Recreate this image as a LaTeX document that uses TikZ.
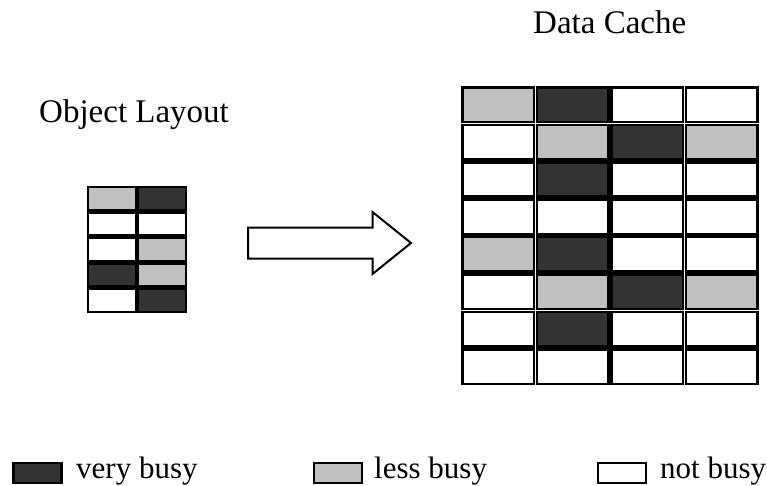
\documentclass[tikz,border=0pt]{standalone}
\usepackage{fontspec}
\setmainfont{Liberation Serif}
\definecolor{vbusy}{HTML}{333333}
\definecolor{lbusy}{HTML}{C0C0C0}
\begin{document}
\begin{tikzpicture}[x=1pt,y=-1pt,
  bigcell/.style={draw=black,line width=2.6pt,anchor=north west,inner sep=0pt,outer sep=0pt,minimum width=71.5pt,minimum height=34.5pt},
  smallcell/.style={draw=black,line width=2.4pt,anchor=north west,inner sep=0pt,outer sep=0pt,minimum width=47.5pt,minimum height=23pt},
  legbox/.style={draw=black,line width=2.6pt,anchor=north west,inner sep=0pt,outer sep=0pt,minimum width=48pt,minimum height=20pt},
  title/.style={font=\fontsize{33}{40}\selectfont,anchor=base west,inner sep=0pt},
  legtext/.style={font=\fontsize{31}{37}\selectfont,anchor=base west,inner sep=0pt}]
\useasboundingbox (0,0) rectangle (767,486);
\fill[white] (0,0) rectangle (767,486);
% titles
\node[title] (dc) at (533,34) {Data Cache};
\node[title] (ol) at (39,123) {Object Layout};
% small grid: 5 rows x 2 cols
\foreach \r/\ca/\cb in {0/lbusy/vbusy,1/white/white,2/white/lbusy,3/vbusy/lbusy,4/white/vbusy}{
  \node[smallcell,fill=\ca] (s\r a) at (88.2,{187.2+\r*25.4}) {};
  \node[smallcell,fill=\cb] (s\r b) at (138.2,{187.2+\r*25.4}) {};
}
% big grid: 8 rows x 4 cols
\foreach \r/\ca/\cb/\cc/\cd in {0/lbusy/vbusy/white/white,1/white/lbusy/vbusy/lbusy,2/white/vbusy/white/white,3/white/white/white/white,4/lbusy/vbusy/white/white,5/white/lbusy/vbusy/lbusy,6/white/vbusy/white/white,7/white/white/white/white}{
  \node[bigcell,fill=\ca] (b\r a) at (462.5,{87.5+\r*37.4}) {};
  \node[bigcell,fill=\cb] (b\r b) at (537,{87.5+\r*37.4}) {};
  \node[bigcell,fill=\cc] (b\r c) at (611.5,{87.5+\r*37.4}) {};
  \node[bigcell,fill=\cd] (b\r d) at (686,{87.5+\r*37.4}) {};
}
% arrow
\draw[line width=2pt,line join=miter] (248,227.5) -- (372.5,227.5) -- (372.5,212) -- (411,243) -- (372.5,274) -- (372.5,258.5) -- (248,258.5) -- cycle;
% legend
\node[legbox,fill=vbusy] (l1) at (13.5,463) {};
\node[legtext] (t1) at (76,478) {very busy};
\node[legbox,fill=lbusy] (l2) at (314,463) {};
\node[legtext] (t2) at (374,478) {less busy};
\node[legbox,fill=white] (l3) at (598,463) {};
\node[legtext] (t3) at (660,478) {not busy};
\end{tikzpicture}
\end{document}
